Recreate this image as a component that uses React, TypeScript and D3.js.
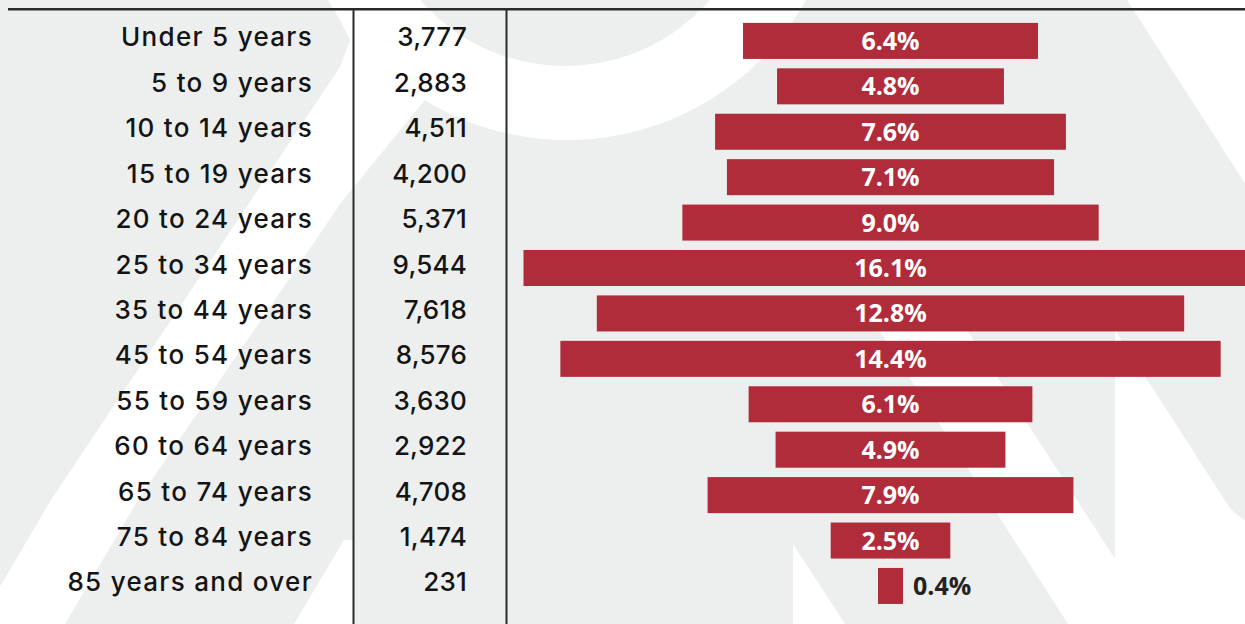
import React from "react";
import * as d3 from "d3";

const categories = [
  "Under 5 years",
  "5 to 9 years",
  "10 to 14 years",
  "15 to 19 years",
  "20 to 24 years",
  "25 to 34 years",
  "35 to 44 years",
  "45 to 54 years",
  "55 to 59 years",
  "60 to 64 years",
  "65 to 74 years",
  "75 to 84 years",
  "85 years and over",
];
const counts = [3777, 2883, 4511, 4200, 5371, 9544, 7618, 8576, 3630, 2922, 4708, 1474, 231];
const percents = [6.4, 4.8, 7.6, 7.1, 9.0, 16.1, 12.8, 14.4, 6.1, 4.9, 7.9, 2.5, 0.4];

const W = 1245;
const H = 624;
const GRAY = "#edefee";
const BAR = "#b12c3a";
const INK = "#141414";

export default function App() {
  const y = d3
    .scaleBand<string>()
    .domain(categories)
    .range([18.2, 18.2 + 13 * 45.42])
    .paddingInner(0.207)
    .paddingOuter(0.1035);
  const w = d3.scaleLinear().domain([0, d3.max(counts) as number]).range([7.4, 734]);
  const cx = 890.5;
  const fmt = d3.format(",");
  const bw = y.bandwidth();

  const ringOuter = { cx: 567, cy: -134, r: 274 };
  const ringInner = { cx: 565, cy: -126, r: 192 };

  return (
    <svg
      width={W}
      height={H}
      viewBox={`0 0 ${W} ${H}`}
      style={{ position: "absolute", left: 0, top: 0, display: "block" }}
    >
      <defs>
        <clipPath id="clip">
          <rect x={0} y={0} width={W} height={H} />
        </clipPath>
      </defs>
      <g clipPath="url(#clip)">
        {/* watermark background */}
        <rect x={0} y={0} width={W} height={H} fill={GRAY} />
        <circle cx={ringOuter.cx} cy={ringOuter.cy} r={ringOuter.r} fill="#fff" />
        <circle cx={ringInner.cx} cy={ringInner.cy} r={ringInner.r} fill={GRAY} />
        <path
          d="M330,0 L350,40 L340,67 L51,500 L-22,624 L65,624 L138,500 L343,200 L425,100 Z"
          fill="#fff"
        />
        <path d="M344,540 L353,540 L353,624 L294,624 Z" fill="#fff" />
        <path d="M793,544 L793,624 L845,624 Z" fill="#fff" />
        <path d="M1127,0 L1270,0 L1270,222 Z" fill="#fff" />
        <path
          d="M1115,330 L1226,502 Q1238,521 1260,526 L1260,624 L1068,624 L879,330 L967,330 L1115,559 Z"
          fill="#fff"
        />
      </g>

      {/* rules */}
      <line x1={8} x2={W} y1={9.3} y2={9.3} stroke="#2a2a2a" strokeWidth={2.6} />
      <line x1={353.5} x2={353.5} y1={9} y2={H} stroke="#2a2a2a" strokeWidth={2} />
      <line x1={506.5} x2={506.5} y1={9} y2={H} stroke="#2a2a2a" strokeWidth={2} />

      {categories.map((c, i) => {
        const top = y(c) as number;
        const mid = top + bw / 2;
        const width = w(counts[i]);
        const x0 = cx - width / 2;
        const inside = width > 70;
        return (
          <g key={c}>
            <text
              x={313}
              y={mid + 5.5}
              textAnchor="end"
              fontFamily="Inter, 'Noto Sans', sans-serif"
              fontSize={26}
              fontWeight={500}
              letterSpacing={1.3}
              fill={INK}
            >
              {c}
            </text>
            <text
              x={467}
              y={mid + 5.5}
              textAnchor="end"
              fontFamily="Inter, 'Noto Sans', sans-serif"
              fontSize={26}
              fontWeight={500}
              letterSpacing={0.2}
              fill={INK}
            >
              {fmt(counts[i])}
            </text>
            <rect x={x0} y={top} width={width} height={bw} fill={BAR} />
            <text
              x={inside ? cx : x0 + width + 10}
              y={mid + 9}
              textAnchor={inside ? "middle" : "start"}
              fontFamily="'Open Sans', sans-serif"
              fontWeight={700}
              fontSize={25}
              fill={inside ? "#ffffff" : "#222222"}
            >
              {percents[i].toFixed(1) + "%"}
            </text>
          </g>
        );
      })}
    </svg>
  );
}
